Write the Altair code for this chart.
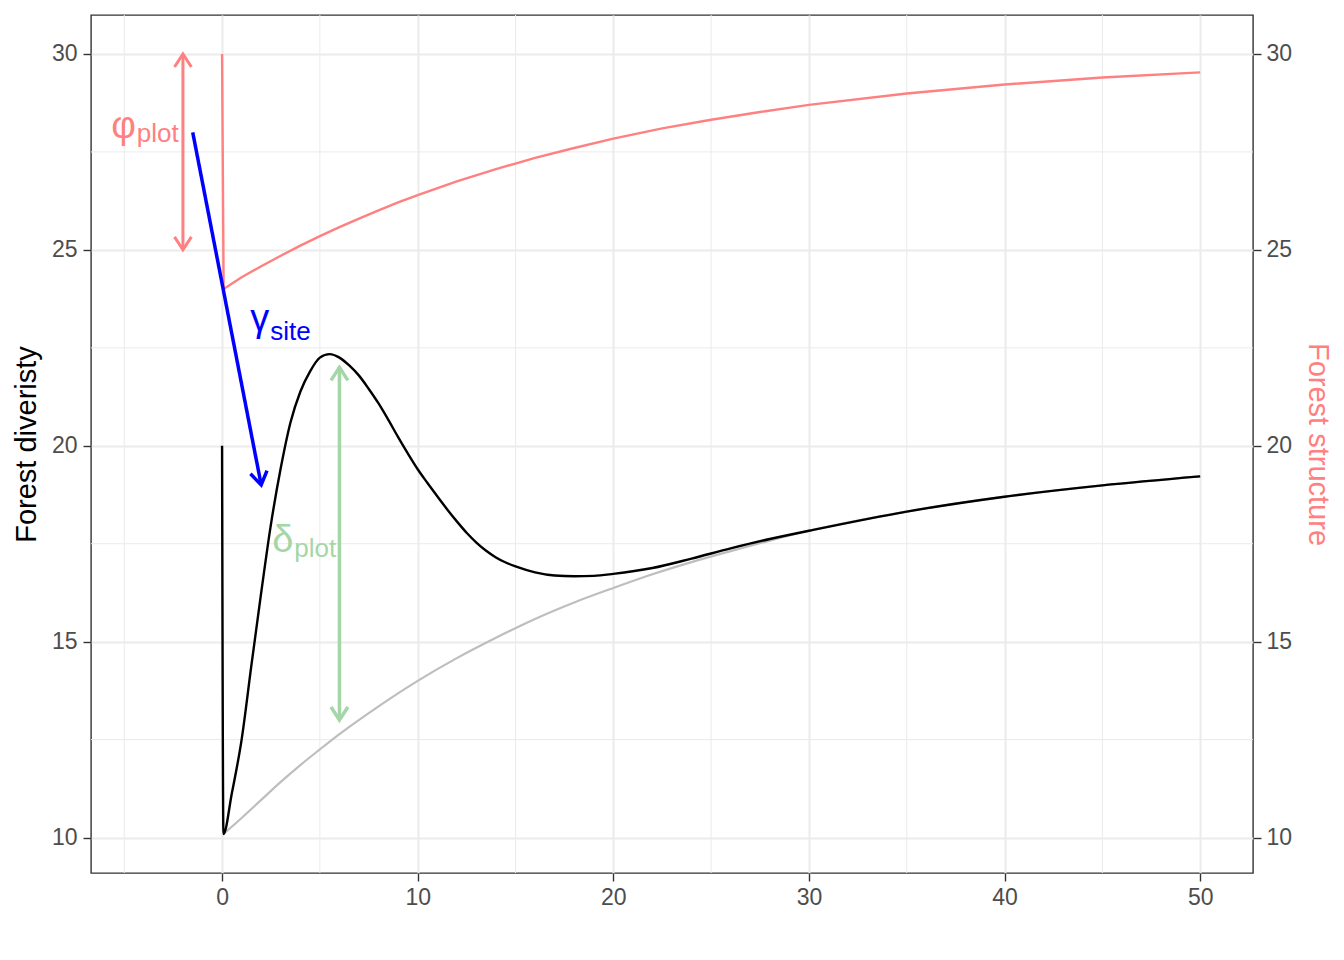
import altair as alt
import pandas as pd

# ---- data ----
t_black = [0, 0.07, 0.5, 1, 1.5, 2, 2.5, 3, 3.5, 4, 4.5, 5, 5.5, 6, 6.5, 7, 7.5, 8, 8.5,
           9, 9.5, 10, 10.5, 11, 11.5, 12, 12.5, 13, 13.5, 14, 14.5, 15, 16, 17, 18, 19, 20,
           22, 24, 26, 28, 30, 35, 40, 45, 50]
diversity = [20, 10.09, 11.13, 12.5, 14.4, 16.25, 18.0, 19.43, 20.6, 21.38, 21.9, 22.25, 22.34,
             22.25, 22.05, 21.79, 21.45, 21.08, 20.66, 20.22, 19.8, 19.4, 19.05, 18.71, 18.38,
             18.07, 17.78, 17.53, 17.32, 17.15, 17.02, 16.92, 16.77, 16.69, 16.67, 16.68, 16.73,
             16.88, 17.12, 17.38, 17.62, 17.83, 18.32, 18.7, 18.99, 19.22]

t_grey = [0.07, 1, 2, 3, 4, 5, 6, 8, 10, 12, 14, 16, 18, 20, 22, 24, 26, 28, 30, 35, 40, 45, 50]
baseline_div = [10.09, 10.5, 10.96, 11.42, 11.85, 12.25, 12.64, 13.35, 14.0, 14.58, 15.1, 15.58,
                16.0, 16.37, 16.72, 17.03, 17.31, 17.58, 17.83, 18.32, 18.7, 18.99, 19.22]

t_red = [0, 0.08, 1, 2, 3, 4, 5, 6, 7, 8, 9, 10, 12, 14, 16, 18, 20, 22.5, 25, 27.5, 30,
         35, 40, 45, 50]
structure = [30, 24.0, 24.3, 24.58, 24.85, 25.11, 25.35, 25.58, 25.8, 26.01, 26.21, 26.4,
             26.75, 27.06, 27.35, 27.6, 27.84, 28.1, 28.32, 28.52, 28.7, 28.99, 29.22, 29.4, 29.53]

x_major = [0, 10, 20, 30, 40, 50]
x_minor = [-5, 5, 15, 25, 35, 45]
y_major = [10, 15, 20, 25, 30]
y_minor = [12.5, 17.5, 22.5, 27.5]

# arrows: phi (double), gamma (single), delta (double)
arrow_x = [-2, -1.5, 6]
arrow_y = [30, 28, 22]
arrow_x2 = [-2, 2, 6]
arrow_y2 = [25, 19, 13]

label_sym = ["φ", "γ", "δ"]
label_sub = ["plot", "site", "plot"]
label_x = [-4, 3, 4]
label_y = [28, 23, 17.5]

RED = "#FF8080"
BLUE = "#0000FF"
GREEN = "#A5D6A7"
FONT = "Liberation Sans"

XDOM = [-6.7, 52.7]
YDOM = [9.095, 30.995]

xs = alt.Scale(domain=XDOM, nice=False, zero=False)
ys = alt.Scale(domain=YDOM, nice=False, zero=False)

X_AX = alt.Axis(values=x_major, title=None, grid=True, gridColor="#EBEBEB", gridWidth=2,
                domain=False, tickColor="#333333", tickWidth=1.4, tickSize=8,
                labelFont=FONT, labelFontSize=23, labelColor="#4D4D4D", labelPadding=5)
Y_AX = alt.Axis(values=y_major, title="Forest diveristy", grid=True, gridColor="#EBEBEB",
                gridWidth=2, domain=False, tickColor="#333333", tickWidth=1.4, tickSize=8,
                labelFont=FONT, labelFontSize=23, labelColor="#4D4D4D", labelPadding=6,
                titleFont=FONT, titleFontSize=29, titleFontWeight="normal", titleColor="#000000",
                titleAngle=270, titleX=-56, titleY=429, titleBaseline="alphabetic",
                titleAlign="center")
Y_AX_R = alt.Axis(values=y_major, orient="right", title="Forest structure", grid=False,
                  domain=False, tickColor="#333333", tickWidth=1.4, tickSize=8,
                  labelFont=FONT, labelFontSize=23, labelColor="#4D4D4D", labelPadding=5,
                  titleFont=FONT, titleFontSize=29, titleFontWeight="normal", titleColor=RED,
                  titleAngle=90, titleX=55, titleY=429, titleBaseline="alphabetic",
                  titleAlign="center")

def X(field="x"):
    return alt.X(f"{field}:Q", scale=xs, axis=X_AX)

def Y(field="y"):
    return alt.Y(f"{field}:Q", scale=ys, axis=Y_AX)

# minor grid
minor_v = alt.Chart(pd.DataFrame({"x": x_minor})).mark_rule(color="#EBEBEB", strokeWidth=1).encode(
    x=X())
minor_h = alt.Chart(pd.DataFrame({"y": y_minor})).mark_rule(color="#EBEBEB", strokeWidth=1).encode(
    y=Y())

grey_line = alt.Chart(pd.DataFrame({"x": t_grey, "y": baseline_div})).mark_line(
    color="#BEBEBE", strokeWidth=2.2, interpolate="monotone").encode(x=X(), y=Y(), order="x:Q")
black_line = alt.Chart(pd.DataFrame({"x": t_black, "y": diversity})).mark_line(
    color="#000000", strokeWidth=2.4, interpolate="monotone").encode(x=X(), y=Y(), order="x:Q")
red_line = alt.Chart(pd.DataFrame({"x": t_red, "y": structure})).mark_line(
    color=RED, strokeWidth=2.4, interpolate="linear").encode(x=X(), y=Y(), order="x:Q")

HEAD = "M-0.65,1L0,0L0.65,1"

def arrow(i, color, width, heads):
    df = pd.DataFrame({"x": [arrow_x[i]], "y": [arrow_y[i]], "x2": [arrow_x2[i]], "y2": [arrow_y2[i]]})
    layers = [alt.Chart(df).mark_rule(color=color, strokeWidth=width).encode(
        x=X("x"), y=Y("y"), x2="x2:Q", y2="y2:Q")]
    for end, ang in heads:
        fx, fy = ("x", "y") if end == "start" else ("x2", "y2")
        layers.append(alt.Chart(df).mark_point(shape=HEAD, size=676, filled=False, stroke=color,
                                               strokeWidth=width, opacity=1, angle=ang).encode(
            x=X(fx), y=Y(fy)))
    return layers

def label(i, color, split_dx, sym_dy, sub_dy):
    df = pd.DataFrame({"x": [label_x[i]], "y": [label_y[i]],
                       "s": [label_sym[i]], "b": [label_sub[i]]})
    sym = alt.Chart(df).mark_text(align="right", baseline="alphabetic", dx=split_dx, dy=sym_dy,
                                  font=FONT, fontSize=38, color=color).encode(
        x=X(), y=Y(), text="s:N")
    sub = alt.Chart(df).mark_text(align="left", baseline="alphabetic", dx=split_dx + 1, dy=sub_dy,
                                  font=FONT, fontSize=26, color=color).encode(
        x=X(), y=Y(), text="b:N")
    return [sym, sub]

layers = [minor_v, minor_h, grey_line, black_line, red_line]
layers += arrow(0, RED, 3, [("start", 0), ("end", 180)])
layers += arrow(1, BLUE, 3.5, [("end", 169)])
layers += arrow(2, GREEN, 3.5, [("start", 0), ("end", 180)])
layers += label(0, RED, -8, 6, 10)
layers += label(1, BLUE, -11.5, 3, 12)
layers += label(2, GREEN, -7, 8, 13)

left = alt.layer(*layers)

right = alt.Chart(pd.DataFrame({"y": [20]})).mark_rule(opacity=0).encode(
    y=alt.Y("y:Q", scale=ys, axis=Y_AX_R))

chart = alt.layer(right, left).resolve_scale(y="independent").properties(
    width=1162, height=858,
    padding={"left": 83, "top": 7, "right": 82, "bottom": 70},
    autosize=alt.AutoSizeParams(type="none"),
    background="#FFFFFF",
).configure_view(stroke="#333333", strokeWidth=1.4)

chart.save("out.html", embed_options={"renderer": "svg", "actions": False})
